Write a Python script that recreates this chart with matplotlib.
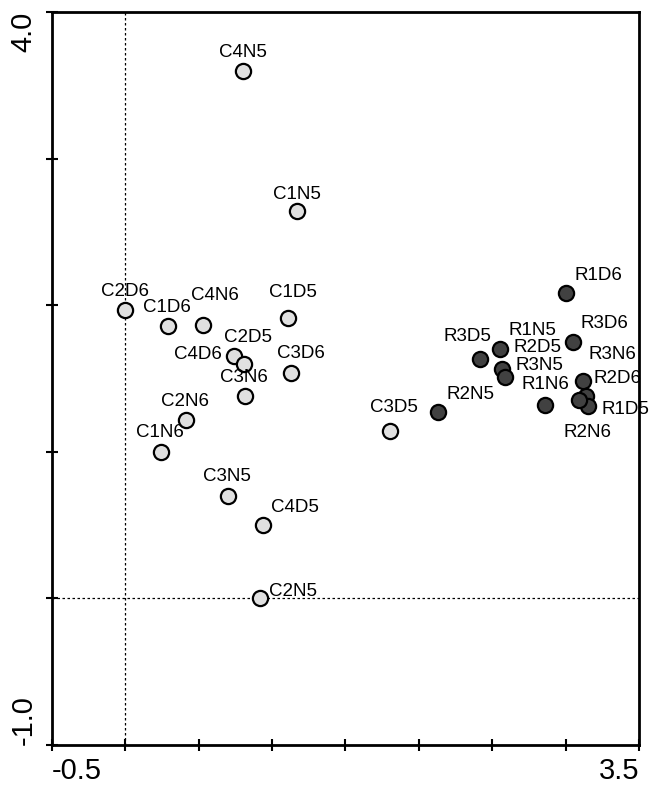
import matplotlib
matplotlib.use("Agg")
import matplotlib.pyplot as plt
import numpy as np

plt.rcParams["font.family"] = ["Liberation Sans", "DejaVu Sans"]

# sample scores (axis 1, axis 2)
c_labels = ["C4N5", "C1N5", "C2D6", "C1D6", "C4N6", "C1D5", "C4D6", "C2D5",
            "C3D6", "C3N6", "C2N6", "C1N6", "C3N5", "C4D5", "C2N5", "C3D5"]
c_x = [0.80, 1.17, 0.00, 0.29, 0.53, 1.11, 0.74, 0.81,
       1.13, 0.815, 0.41, 0.24, 0.70, 0.94, 0.92, 1.80]
c_y = [3.60, 2.64, 1.97, 1.86, 1.865, 1.91, 1.65, 1.60,
       1.535, 1.38, 1.22, 1.00, 0.70, 0.50, 0.00, 1.14]

r_labels = ["R2N5", "R3D5", "R1N5", "R2D5", "R3N5", "R1D6", "R3D6",
            "R3N6", "R2D6", "R1D5", "R2N6", "R1N6"]
r_x = [2.13, 2.42, 2.55, 2.57, 2.59, 3.00, 3.05,
       3.12, 3.14, 3.15, 3.09, 2.86]
r_y = [1.27, 1.63, 1.70, 1.565, 1.51, 2.08, 1.75,
       1.485, 1.38, 1.31, 1.35, 1.32]

# label offsets in pixels (dx, dy)
c_offsets = [(0, 18), (0, 17), (0, 18), (-1, 18), (12, 29), (5, 26), (-36, 2), (4, 26),
             (10, 20), (-1, 19), (-1, 18), (-1, 19), (-1, 19), (32, 18), (33, 7), (4, 24)]
r_offsets = [(33, 18), (-13, 23), (33, 19), (35, 21), (34, 12), (33, 18), (32, 18),
             (29, 26), (31, 18), (38, -3), (9, -32), (0, 20)]

fig = plt.figure(figsize=(6.52, 7.85), dpi=100)
ax = fig.add_axes([0.0798, 0.051, 0.9002, 0.9337])

ax.axvline(0, color="black", lw=0.9, ls=(0, (2, 2)), zorder=1)
ax.axhline(0, color="black", lw=0.9, ls=(0, (2, 2)), zorder=1)

ax.scatter(c_x, c_y, s=120, facecolor="#e0e0e0", edgecolor="black", linewidth=1.6, zorder=3)
ax.scatter(r_x, r_y, s=120, facecolor="#414141", edgecolor="black", linewidth=1.6, zorder=3)

for labels, xs, ys, offs in [(c_labels, c_x, c_y, c_offsets), (r_labels, r_x, r_y, r_offsets)]:
    for lab, x, y, (dx, dy) in zip(labels, xs, ys, offs):
        ax.annotate(lab, (x, y), xytext=(dx, dy), textcoords="offset pixels",
                    ha="center", va="center", fontsize=13.5, zorder=4)

ax.set_xlim(-0.5, 3.5)
ax.set_ylim(-1.0, 4.0)

xt = np.arange(-0.5, 3.51, 0.5)
yt = np.arange(-1.0, 4.01, 1.0)
ax.set_xticks(xt)
ax.set_yticks(yt)
ax.set_xticklabels(["-0.5"] + [""] * (len(xt) - 2) + ["3.5"], fontsize=21)
ax.set_yticklabels(["-1.0"] + [""] * (len(yt) - 2) + ["4.0"], fontsize=21, rotation=90)
xl = ax.get_xticklabels()
xl[0].set_ha("left")
xl[-1].set_ha("right")
yl = ax.get_yticklabels()
yl[0].set_va("bottom")
yl[-1].set_va("top")
ax.tick_params(direction="inout", length=9, width=1.5, pad=4)
ax.tick_params(axis="y", pad=6)

for sp in ax.spines.values():
    sp.set_linewidth(2)

fig.savefig("out.png", dpi=100)
